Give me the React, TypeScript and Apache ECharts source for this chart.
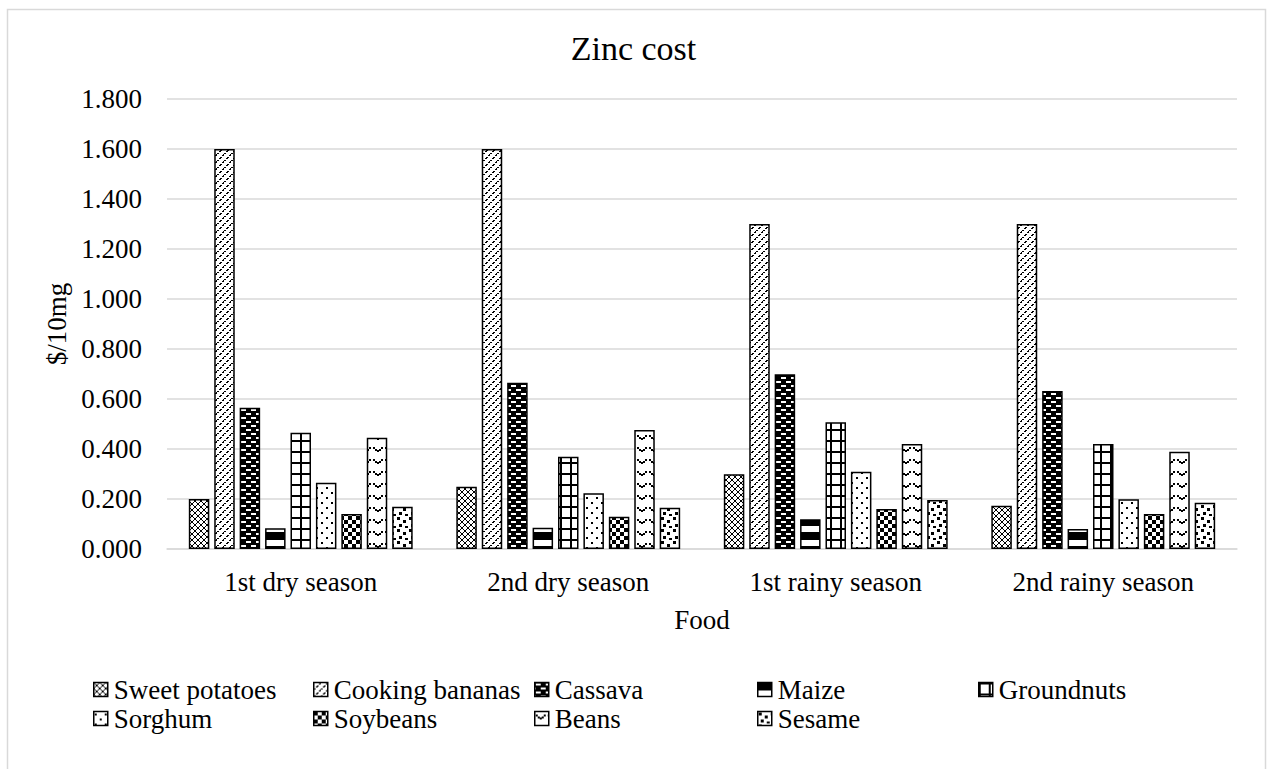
import React, { useEffect, useRef } from "react";
import * as echarts from "echarts";

const categories = ["1st dry season", "2nd dry season", "1st rainy season", "2nd rainy season"];
const seriesNames = [
  "Sweet potatoes",
  "Cooking bananas",
  "Cassava",
  "Maize",
  "Groundnuts",
  "Sorghum",
  "Soybeans",
  "Beans",
  "Sesame",
];
const sweetPotatoes = [0.2, 0.249, 0.299, 0.173];
const cookingBananas = [1.6, 1.6, 1.3, 1.3];
const cassava = [0.565, 0.665, 0.699, 0.632];
const maize = [0.083, 0.085, 0.119, 0.08];
const groundnuts = [0.465, 0.369, 0.507, 0.42];
const sorghum = [0.265, 0.223, 0.309, 0.199];
const soybeans = [0.14, 0.129, 0.16, 0.14];
const beans = [0.445, 0.476, 0.42, 0.389];
const sesame = [0.169, 0.165, 0.196, 0.185];
const seriesValues = [sweetPotatoes, cookingBananas, cassava, maize, groundnuts, sorghum, soybeans, beans, sesame];

const FONT = "'Liberation Serif', 'Times New Roman', serif";

function tile(w: number, h: number, bg: string, draw: (c: CanvasRenderingContext2D) => void) {
  const cv = document.createElement("canvas");
  cv.width = w;
  cv.height = h;
  const c = cv.getContext("2d")!;
  c.fillStyle = bg;
  c.fillRect(0, 0, w, h);
  c.fillStyle = "#000";
  draw(c);
  return { image: cv.toDataURL(), repeat: "repeat", imageWidth: w, imageHeight: h } as any;
}

function makePatterns() {
  const p: any[] = [];
  // Sweet potatoes: dense diagonal cross-hatch
  p.push(
    tile(6, 6, "#fff", (c) => {
      for (let i = 0; i < 6; i++) {
        c.fillRect(i, i, 1, 1);
        c.fillRect(5 - i, i, 1, 1);
      }
    })
  );
  // Cooking bananas: upward diagonal lines
  p.push(
    tile(7, 7, "#fff", (c) => {
      for (let i = 0; i < 7; i++) {
        if (i % 3 !== 2) c.fillRect(6 - i, i, 2, 1);
      }
      c.fillRect(0, 6, 1, 1);
    })
  );
  // Cassava: black with staggered white dashes
  p.push(
    tile(10, 8, "#000", (c) => {
      c.fillStyle = "#fff";
      c.fillRect(1, 1, 5, 2);
      c.fillRect(6, 5, 4, 2);
      c.fillRect(0, 5, 1, 2);
    })
  );
  // Maize: wide horizontal band
  p.push(
    tile(4, 14, "#fff", (c) => {
      c.fillRect(0, 0, 4, 8);
    })
  );
  // Groundnuts: large grid
  p.push(
    tile(10, 11, "#fff", (c) => {
      c.fillRect(0, 0, 10, 2);
      c.fillRect(0, 0, 2, 11);
    })
  );
  // Sorghum: sparse dots
  p.push(
    tile(10, 10, "#fff", (c) => {
      c.fillRect(1, 2, 2, 2);
      c.fillRect(6, 7, 2, 2);
    })
  );
  // Soybeans: checkerboard
  p.push(
    tile(8, 8, "#fff", (c) => {
      c.fillRect(0, 0, 4, 4);
      c.fillRect(4, 4, 4, 4);
    })
  );
  // Beans: waves
  p.push(
    tile(12, 12, "#fff", (c) => {
      c.fillRect(1, 3, 2, 2);
      c.fillRect(3, 5, 2, 2);
      c.fillRect(5, 6, 2, 2);
      c.fillRect(7, 5, 2, 2);
      c.fillRect(9, 3, 2, 2);
    })
  );
  // Sesame: large confetti
  p.push(
    tile(12, 12, "#fff", (c) => {
      c.fillRect(1, 1, 3, 3);
      c.fillRect(7, 4, 3, 3);
      c.fillRect(3, 8, 3, 3);
      c.fillRect(9, 10, 3, 2);
    })
  );
  return p;
}

const legendCols = [93, 313, 534, 757, 978];
const legendRows = [676, 705];

export default function App() {
  const ref = useRef<HTMLDivElement>(null);
  useEffect(() => {
    document.body.style.margin = "0";
    const chart = echarts.init(ref.current!, null, { renderer: "svg" });
    const patterns = makePatterns();
    const legends = seriesNames.map((name, i) => ({
      data: [name],
      left: legendCols[i < 5 ? i : i - 5],
      top: legendRows[i < 5 ? 0 : 1],
      padding: 0,
      itemGap: 0,
      icon: "rect",
      itemWidth: 14,
      itemHeight: 14,
      selectedMode: false,
      itemStyle: { borderColor: "#000", borderWidth: 1.5 },
      textStyle: { fontFamily: FONT, fontSize: 27, color: "#000", padding: [0, 0, 0, 1] },
    }));
    chart.setOption({
      animation: false,
      backgroundColor: "#fff",
      title: {
        text: "Zinc cost",
        left: "center",
        top: 31,
        padding: 0,
        textStyle: { fontFamily: FONT, fontSize: 34, fontWeight: "normal", color: "#000" },
      },
      graphic: [
        {
          type: "rect",
          shape: { x: 7.5, y: 9.5, width: 1258, height: 780 },
          style: { fill: "none", stroke: "#d9d9d9", lineWidth: 1.5 },
          silent: true,
        },
      ],
      legend: legends,
      grid: { left: 167, top: 99, width: 1070, height: 450, containLabel: false },
      xAxis: {
        type: "category",
        data: categories,
        name: "Food",
        nameLocation: "middle",
        nameGap: 57,
        nameTextStyle: { fontFamily: FONT, fontSize: 27, color: "#000" },
        axisTick: { show: false },
        axisLine: { lineStyle: { color: "#d9d9d9", width: 1.5 } },
        axisLabel: { fontFamily: FONT, fontSize: 27, color: "#000", margin: 19 },
      },
      yAxis: {
        type: "value",
        min: 0,
        max: 1.8,
        interval: 0.2,
        name: "$/10mg",
        nameLocation: "middle",
        nameGap: 97,
        nameTextStyle: { fontFamily: FONT, fontSize: 27, color: "#000" },
        axisLine: { show: false },
        axisTick: { show: false },
        splitLine: { lineStyle: { color: "#d9d9d9", width: 1.5 } },
        axisLabel: {
          fontFamily: FONT,
          fontSize: 27,
          color: "#000",
          margin: 25,
          formatter: (v: number) => v.toFixed(3),
        },
      },
      series: seriesNames.map((name, i) => ({
        name,
        type: "bar",
        data: seriesValues[i],
        barWidth: 20.5,
        barGap: "24%",
        itemStyle: { color: patterns[i], borderColor: "#000", borderWidth: 1.5 },
      })),
    });
    return () => chart.dispose();
  }, []);
  return <div ref={ref} style={{ width: 1267, height: 769 }} />;
}
